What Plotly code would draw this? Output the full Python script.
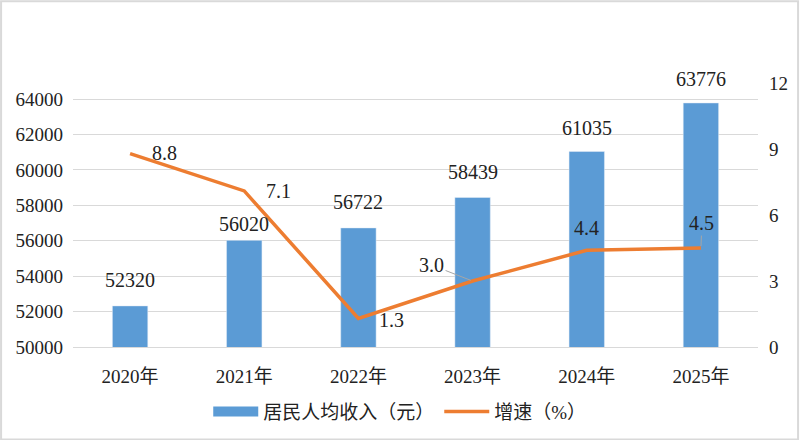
import plotly.graph_objects as go

# données
annees = ["2020年", "2021年", "2022年", "2023年", "2024年", "2025年"]
revenu = [52320, 56020, 56722, 58439, 61035, 63776]
croissance = [8.8, 7.1, 1.3, 3.0, 4.4, 4.5]
croissance_txt = ["8.8", "7.1", "1.3", "3.0", "4.4", "4.5"]
ticks_gauche = [50000, 52000, 54000, 56000, 58000, 60000, 62000, 64000]
ticks_droite = [0, 3, 6, 9, 12]

# position des etiquettes (pixels)
decal_barre = [26, 16, 26, 26, 24, 24]
decal_x = [34, 34, 33, 0, 0, 0]
decal_y = [1, 0, -2, 0, 22, 0]
fleche = [None, None, None, (-41, -16), None, (1, -25)]

bleu = "#5B9BD5"
orange = "#ED7D31"
police = "Liberation Serif, Noto Sans CJK SC"

fig = go.Figure()
fig.add_trace(go.Bar(x=annees, y=revenu, name="居民人均收入（元）",
                     marker_color=bleu, width=0.31, showlegend=False))
# symbole de legende large pour les barres
fig.add_trace(go.Scatter(x=[None], y=[None], name="居民人均收入（元）", mode="lines",
                         line=dict(color=bleu, width=10)))
fig.add_trace(go.Scatter(x=annees, y=croissance, name="增速（%）", yaxis="y2",
                         mode="lines", line=dict(color=orange, width=3.5)))

# etiquettes des barres
for a, v, d in zip(annees, revenu, decal_barre):
    fig.add_annotation(x=a, y=v, text=str(v), showarrow=False, yshift=d,
                       font=dict(size=20, color="#222", family=police))

# etiquettes de la courbe
for i, (a, v) in enumerate(zip(annees, croissance)):
    if fleche[i] is None:
        fig.add_annotation(x=a, y=v, yref="y2", text=croissance_txt[i], showarrow=False,
                           xshift=decal_x[i], yshift=decal_y[i],
                           font=dict(size=20, color="#222", family=police))
    else:
        fig.add_annotation(x=a, y=v, yref="y2", text=croissance_txt[i], showarrow=True,
                           ax=fleche[i][0], ay=fleche[i][1], arrowhead=0, arrowwidth=1,
                           arrowcolor="#a6a6a6", standoff=2,
                           font=dict(size=20, color="#222", family=police))

fig.update_layout(
    width=800, height=440,
    margin=dict(l=73, r=42, t=83, b=93, autoexpand=False),
    paper_bgcolor="white", plot_bgcolor="white",
    font=dict(family=police, size=19, color="#333"),
    xaxis=dict(showline=True, linecolor="#d9d9d9", ticks="", ticklabelstandoff=12,
               automargin=False, tickfont=dict(size=19, color="#222")),
    yaxis=dict(range=[50000, 64903], tickvals=ticks_gauche, tickformat="d", showgrid=True,
               gridcolor="#d9d9d9", zeroline=False, ticklabelstandoff=9, automargin=False,
               tickfont=dict(size=19, color="#222")),
    yaxis2=dict(range=[0, 12.01], tickvals=ticks_droite, overlaying="y", side="right",
                showgrid=False, zeroline=False, ticklabelstandoff=10, automargin=False,
                tickfont=dict(size=19, color="#222")),
    legend=dict(orientation="h", x=0.477, xanchor="center", y=-0.245, yanchor="middle",
                font=dict(size=19, color="#222"), itemwidth=45, traceorder="normal"),
    showlegend=True,
)

# bordure
fig.add_shape(type="rect", xref="paper", yref="paper", x0=-0.105, x1=1.0585,
              y0=-0.35, y1=1.31, line=dict(color="#d9d9d9", width=2))

# pas de marge autour du graphique dans la page
fig.write_html("out.html", config={"displayModeBar": False},
               post_script="document.body.style.margin='0';")
